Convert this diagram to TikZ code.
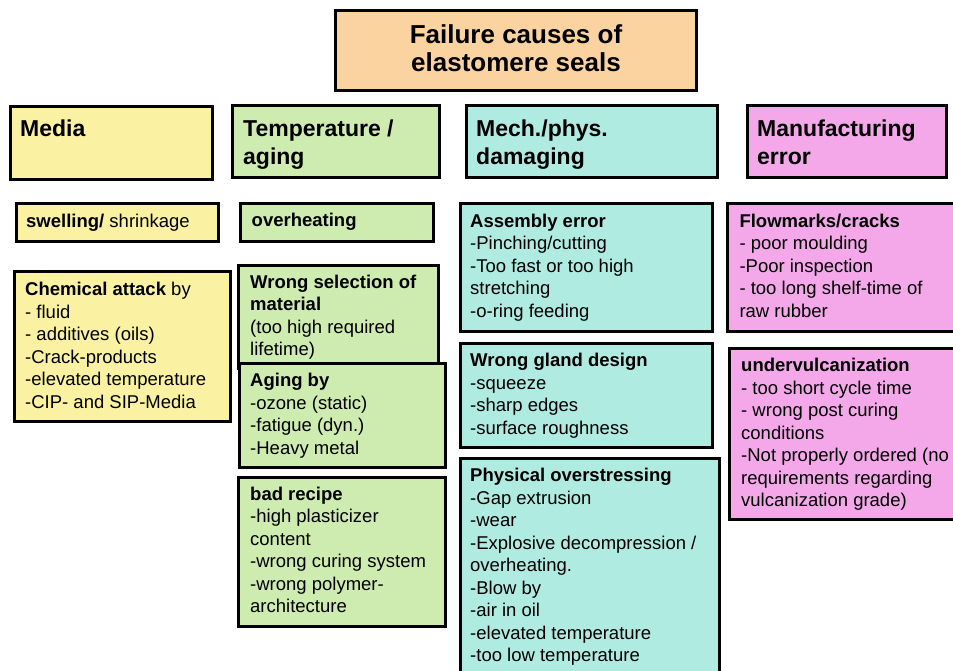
\documentclass[tikz,border=0pt]{standalone}
\usepackage{fontspec}
\setmainfont{Liberation Sans}
\definecolor{cpeach}{RGB}{250,211,160}
\definecolor{cyellow}{RGB}{250,242,162}
\definecolor{cgreen}{RGB}{206,235,176}
\definecolor{ccyan}{RGB}{176,235,226}
\definecolor{cpink}{RGB}{244,168,234}
\newcommand\tlines[2]{\parbox[t]{#1}{\raggedright #2}}
\begin{document}
\begin{tikzpicture}[x=1pt,y=-1pt,
  box/.style={draw=black, line width=3pt},
  txt/.style={anchor=base west, inner sep=0pt, font=\fontsize{18.5}{22.5}\selectfont},
  hdr/.style={anchor=base west, inner sep=0pt, font=\fontsize{23}{28}\selectfont\bfseries},
  ttl/.style={anchor=base, inner sep=0pt, font=\fontsize{26}{28.5}\selectfont\bfseries}]
\useasboundingbox (0,0) rectangle (953,670);
\clip (0,0) rectangle (953,670);
\fill[white] (0,0) rectangle (953,670);

% title
\draw[box, fill=cpeach] (335,10) rectangle (696,90);
\node[ttl] (title) at (516,43.3) {\parbox[t]{340pt}{\centering Failure causes of\\ elastomere seals}};

% headers
\draw[box, fill=cyellow] (10,106) rectangle (212,179);
\node[hdr] (hmedia) at (20,136) {Media};
\draw[box, fill=cgreen] (232,105) rectangle (439,177);
\node[hdr] (htemp) at (243,136) {\tlines{190pt}{Temperature /\\ aging}};
\draw[box, fill=ccyan] (466,105) rectangle (717,177);
\node[hdr] (hmech) at (476,136) {\tlines{230pt}{Mech./phys.\\ damaging}};
\draw[box, fill=cpink] (747,105) rectangle (946,177);
\node[hdr] (hmanu) at (757,136) {\tlines{190pt}{Manufacturing\\ error}};

% Media column
\draw[box, fill=cyellow] (16,203) rectangle (218,241);
\node[txt] (swell) at (26,227.3) {\textbf{swelling/} shrinkage};
\draw[box, fill=cyellow] (14,271.5) rectangle (230.5,421);
\node[txt] (chem) at (25,295.7) {\tlines{200pt}{\textbf{Chemical attack} by\\ - fluid\\ - additives (oils)\\ -Crack-products\\ -elevated temperature\\ -CIP- and SIP-Media}};

% Temperature column
\draw[box, fill=cgreen] (240,203) rectangle (433.5,241);
\node[txt] (overh) at (251.5,226) {\textbf{overheating}};
\draw[box, fill=cgreen] (238.5,265) rectangle (438.5,368);
\node[txt] (wrongsel) at (250,288.3) {\tlines{190pt}{\textbf{Wrong selection of}\\ \textbf{material}\\ (too high required\\ lifetime)}};
\draw[box, fill=cgreen] (239,363.5) rectangle (445,467.5);
\node[txt] (aging) at (250,386.5) {\tlines{190pt}{\textbf{Aging by}\\ -ozone (static)\\ -fatigue (dyn.)\\ -Heavy metal}};
\draw[box, fill=cgreen] (238,477.5) rectangle (445,626);
\node[txt] (recipe) at (250,500) {\tlines{195pt}{\textbf{bad recipe}\\ -high plasticizer\\ content\\ -wrong curing system\\ -wrong polymer-\\ architecture}};

% Mech column
\draw[box, fill=ccyan] (460.5,203.5) rectangle (712,331);
\node[txt] (assem) at (470,227.3) {\tlines{240pt}{\textbf{Assembly error}\\ -Pinching/cutting\\ -Too fast or too high\\ stretching\\ -o-ring feeding}};
\draw[box, fill=ccyan] (460.5,343) rectangle (712,447.5);
\node[txt] (gland) at (470,366.7) {\tlines{240pt}{\textbf{Wrong gland design}\\ -squeeze\\ -sharp edges\\ -surface roughness}};
\draw[box, fill=ccyan] (460.5,458) rectangle (719.5,690);
\node[txt] (phys) at (470,481.7) {\tlines{245pt}{\textbf{Physical overstressing}\\ -Gap extrusion\\ -wear\\ -Explosive decompression /\\ overheating.\\ -Blow by\\ -air in oil\\ -elevated temperature\\ -too low temperature}};

% Manufacturing column
\draw[box, fill=cpink] (727.5,203.5) rectangle (970,331);
\node[txt] (flow) at (739.3,227.3) {\tlines{215pt}{\textbf{Flowmarks/cracks}\\ - poor moulding\\ -Poor inspection\\ - too long shelf-time of\\ raw rubber}};
\draw[box, fill=cpink] (729.5,348) rectangle (970,519.5);
\node[txt] (underv) at (741,371.7) {\tlines{215pt}{\textbf{undervulcanization}\\ - too short cycle time\\ - wrong post curing\\ conditions\\ -Not properly ordered (no\\ requirements regarding\\ vulcanization grade)}};
\end{tikzpicture}
\end{document}
